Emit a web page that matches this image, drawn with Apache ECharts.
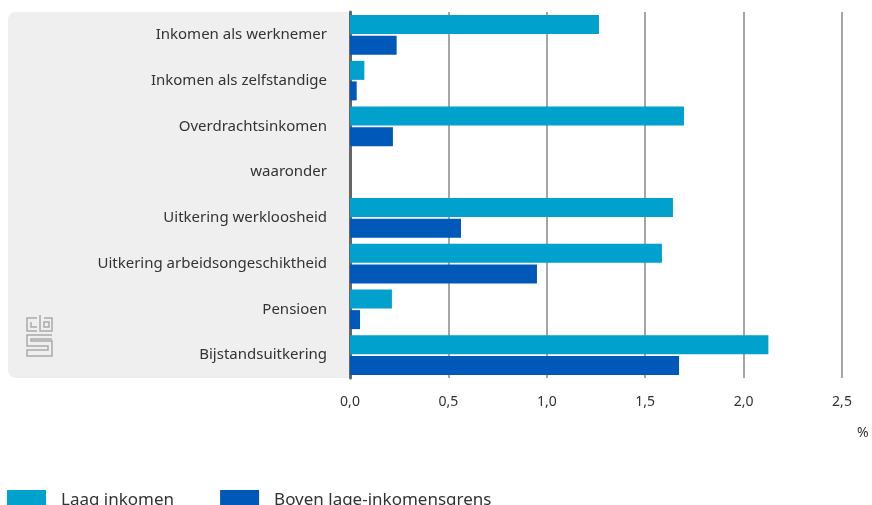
<!DOCTYPE html>
<html>
<head>
<meta charset="utf-8">
<script src="https://cdn.jsdelivr.net/npm/echarts@6/dist/echarts.min.js"></script>
<style>
  html, body { margin: 0; padding: 0; background: #fff; }
  #chart { width: 872px; height: 505px; }
</style>
</head>
<body>
<div id="chart"></div>
<script>
// categorieën (van boven naar beneden)
const categorieen = [
  "Inkomen als werknemer",
  "Inkomen als zelfstandige",
  "Overdrachtsinkomen",
  "waaronder",
  "Uitkering werkloosheid",
  "Uitkering arbeidsongeschiktheid",
  "Pensioen",
  "Bijstandsuitkering"
];
// waarden in %
const laagInkomen = [1.265, 0.073, 1.697, null, 1.641, 1.585, 0.213, 2.126];
const bovenGrens  = [0.237, 0.034, 0.218, null, 0.564, 0.950, 0.051, 1.672];
const xTicks = [0, 0.5, 1.0, 1.5, 2.0, 2.5];

const chart = echarts.init(document.getElementById("chart"));
const font = "Noto Sans";

// cbs-logo (lichtgrijs), ruwe benadering met lijntjes
const logoStyle = { stroke: "#aaa", fill: null, lineWidth: 1.5 };
const logo = [
  { type: "polyline", shape: { points: [[37, 318], [27, 318], [27, 331], [37, 331]] }, style: logoStyle },
  { type: "polyline", shape: { points: [[31, 322], [31, 327], [37, 327]] }, style: logoStyle },
  { type: "polyline", shape: { points: [[40, 315], [40, 331], [52, 331], [52, 318], [44, 318]] }, style: logoStyle },
  { type: "rect", shape: { x: 44, y: 322, width: 5, height: 5 }, style: logoStyle },
  { type: "polyline", shape: { points: [[52, 335], [27, 335], [27, 346], [48, 346], [48, 350], [27, 350], [27, 356], [52, 356], [52, 341], [31, 341], [31, 339], [52, 339]] }, style: logoStyle }
];

const option = {
  animation: false,
  textStyle: { fontFamily: font },
  graphic: [
    {
      type: "rect", z: -10, silent: true,
      shape: { x: 8, y: 12, width: 342, height: 366, r: [8, 0, 0, 8] },
      style: { fill: "#efefef" }
    },
    ...logo,
    {
      type: "text", left: 857, top: 426,
      style: { text: "%", font: "14px 'Noto Sans'", fill: "#333" }
    }
  ],
  grid: { left: 350, right: 30, top: 12, bottom: 127, containLabel: false },
  legend: {
    left: 7, top: 490, padding: 0,
    itemWidth: 39, itemHeight: 20, itemGap: 46,
    icon: "rect",
    textStyle: { fontSize: 17, color: "#333", fontFamily: font, padding: [0, 0, 0, 10] },
    data: ["Laag inkomen", "Boven lage-inkomensgrens"]
  },
  xAxis: {
    type: "value",
    min: 0, max: 2.5, interval: 0.5,
    axisLine: { show: false },
    axisTick: { show: false },
    axisLabel: {
      color: "#333", fontSize: 14, margin: 17,
      formatter: v => xTicks.includes(v) ? v.toFixed(1).replace(".", ",") : ""
    },
    splitLine: { show: true, lineStyle: { color: "#888", width: 1.5 } }
  },
  yAxis: {
    type: "category",
    data: categorieen,
    inverse: true,
    axisLine: { show: true, lineStyle: { color: "#666", width: 3 } },
    axisTick: { show: false },
    axisLabel: { color: "#333", fontSize: 15, margin: 23 }
  },
  series: [
    {
      name: "Laag inkomen",
      type: "bar",
      data: laagInkomen,
      barWidth: 19,
      barGap: "8%",
      itemStyle: { color: "#00a1cd" }
    },
    {
      name: "Boven lage-inkomensgrens",
      type: "bar",
      data: bovenGrens,
      barWidth: 19,
      barGap: "8%",
      itemStyle: { color: "#0058b8" }
    }
  ]
};
chart.setOption(option);
</script>
</body>
</html>
